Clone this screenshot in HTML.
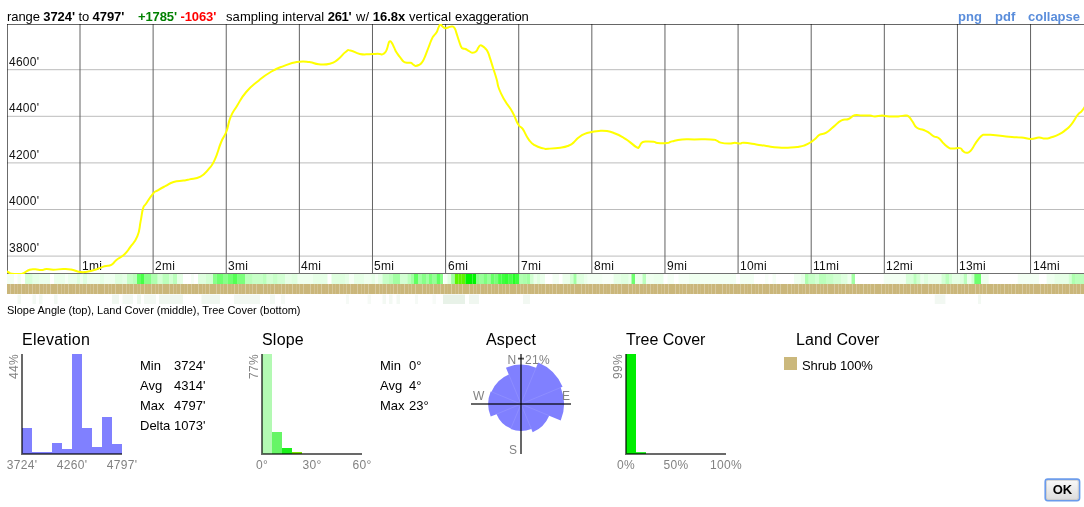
<!DOCTYPE html>
<html><head><meta charset="utf-8"><title>Profile</title>
<style>
html,body{margin:0;padding:0;background:#fff;}
body{width:1084px;height:507px;position:relative;overflow:hidden;font-family:"Liberation Sans",sans-serif;font-size:13px;color:#000;}
.abs{position:absolute;white-space:nowrap;}
.hdr{left:7px;top:9px;line-height:15px;}
.hdr b{font-weight:bold;}
.lnk{color:#5a8ddb;font-weight:bold;top:9px;line-height:15px;}
.ttl{font-size:16px;line-height:18px;top:331px;letter-spacing:0.2px;}
.g{color:#828282;font-size:12px;line-height:14px;letter-spacing:0.3px;}
.ctr{transform:translateX(-50%);}
.st{line-height:20px;top:355.5px;}
.rot{transform-origin:0 0;transform:rotate(-90deg);}
svg{position:absolute;left:0;top:0;}
#wrap{position:absolute;left:0;top:0;width:1084px;height:507px;will-change:transform;}
</style></head><body><div id="wrap">
<div class="abs hdr"><span style="letter-spacing:-0.09px">range <b>3724'</b> to <b>4797'</b></span><span style="display:inline-block;width:13.8px"></span><span style="letter-spacing:-0.1px"><b style="color:#008000">+1785'</b> <b style="color:#ff0000">-1063'</b></span><span style="display:inline-block;width:9.8px"></span><span style="letter-spacing:0.06px">sampling</span> interval <b style="letter-spacing:-0.3px;margin-right:1.2px">261'</b> w/ <b>16.8x</b> <span style="letter-spacing:0.15px">vertical </span><span style="letter-spacing:-0.125px">exaggeration</span></div>
<div class="abs lnk" style="left:958px">png</div><div class="abs lnk" style="left:995px">pdf</div><div class="abs lnk" style="left:1028px">collapse</div>
<svg width="1084" height="507" viewBox="0 0 1084 507">
<line x1="7" x2="1084" y1="69.7" y2="69.7" stroke="#bcbcbc" stroke-width="1"/>
<line x1="7" x2="1084" y1="116.3" y2="116.3" stroke="#bcbcbc" stroke-width="1"/>
<line x1="7" x2="1084" y1="162.9" y2="162.9" stroke="#bcbcbc" stroke-width="1"/>
<line x1="7" x2="1084" y1="209.5" y2="209.5" stroke="#bcbcbc" stroke-width="1"/>
<line x1="7" x2="1084" y1="256.1" y2="256.1" stroke="#bcbcbc" stroke-width="1"/>
<line x1="80.00" x2="80.00" y1="24" y2="274" stroke="#626262" stroke-width="1"/>
<line x1="153.12" x2="153.12" y1="24" y2="274" stroke="#626262" stroke-width="1"/>
<line x1="226.24" x2="226.24" y1="24" y2="274" stroke="#626262" stroke-width="1"/>
<line x1="299.36" x2="299.36" y1="24" y2="274" stroke="#626262" stroke-width="1"/>
<line x1="372.48" x2="372.48" y1="24" y2="274" stroke="#626262" stroke-width="1"/>
<line x1="445.60" x2="445.60" y1="24" y2="274" stroke="#626262" stroke-width="1"/>
<line x1="518.72" x2="518.72" y1="24" y2="274" stroke="#626262" stroke-width="1"/>
<line x1="591.84" x2="591.84" y1="24" y2="274" stroke="#626262" stroke-width="1"/>
<line x1="664.96" x2="664.96" y1="24" y2="274" stroke="#626262" stroke-width="1"/>
<line x1="738.08" x2="738.08" y1="24" y2="274" stroke="#626262" stroke-width="1"/>
<line x1="811.20" x2="811.20" y1="24" y2="274" stroke="#626262" stroke-width="1"/>
<line x1="884.32" x2="884.32" y1="24" y2="274" stroke="#626262" stroke-width="1"/>
<line x1="957.44" x2="957.44" y1="24" y2="274" stroke="#626262" stroke-width="1"/>
<line x1="1030.56" x2="1030.56" y1="24" y2="274" stroke="#626262" stroke-width="1"/>
<rect x="7" y="24" width="1077" height="1" fill="#000" fill-opacity="0.6"/>
<rect x="7" y="24" width="1" height="250" fill="#000" fill-opacity="0.58"/>
<rect x="7" y="273" width="1077" height="1" fill="#707070"/>
<g font-family="Liberation Sans, sans-serif" font-size="12" fill="#111" letter-spacing="0.25">
<text x="9" y="65.8">4600'</text>
<text x="9" y="112.3">4400'</text>
<text x="9" y="158.9">4200'</text>
<text x="9" y="205.4">4000'</text>
<text x="9" y="252">3800'</text>
<text x="82" y="269.5">1mi</text>
<text x="155" y="269.5">2mi</text>
<text x="228" y="269.5">3mi</text>
<text x="301" y="269.5">4mi</text>
<text x="374" y="269.5">5mi</text>
<text x="448" y="269.5">6mi</text>
<text x="521" y="269.5">7mi</text>
<text x="594" y="269.5">8mi</text>
<text x="667" y="269.5">9mi</text>
<text x="740" y="269.5">10mi</text>
<text x="813" y="269.5">11mi</text>
<text x="886" y="269.5">12mi</text>
<text x="959" y="269.5">13mi</text>
<text x="1033" y="269.5">14mi</text>
</g>
<clipPath id="cc"><rect x="7" y="24" width="1077" height="250"/></clipPath>
<path clip-path="url(#cc)" d="M6 271.3C6.7 271.5 7 271.6 8.5 272.2C10 272.8 8.8 273.2 11.8 273.7C14.8 274.2 16.5 274.2 19.7 274C22.9 273.8 21.1 274.2 23.7 273.1C26.3 272 26.5 270.7 29.6 269.7C32.7 268.7 32.4 269.2 35.5 269.3C38.6 269.4 38.5 270.2 41.4 270.1C44.3 270 43.2 269.1 46.4 269C49.6 268.9 48.8 269.7 53.3 269.7C57.8 269.7 58.4 269.1 63.1 269C67.8 268.9 66.5 268.7 71 269.5C75.5 270.3 75.7 271.3 79.9 271.9C84.1 272.5 82.3 272.4 86.8 271.7C91.3 271 91.9 270.7 96.6 269.2C101.3 267.7 100.6 267.4 104.5 266.2C108.4 265 108.2 266.5 111.4 264.8C114.6 263.1 113 262.7 116.4 259.9C119.8 257.1 120.6 257.8 124.3 254.4C128 251 126.7 252 130.2 247.1C133.7 242.2 134.6 243.1 137.4 236.2C140.2 229.3 139.1 228.8 140.6 221.4C142.1 214 141.6 213.3 143 208.6C144.4 203.9 143.4 207.6 146 203.7C148.6 199.8 149.8 197.4 152.9 193.8C156 190.2 154.4 192.4 157.8 190.3C161.2 188.2 161.5 188.1 165.7 185.9C169.9 183.7 168.9 183.4 173.6 182C178.3 180.6 179.2 181.3 183.4 180.6C187.6 179.9 184.9 180.5 189.5 179.4C194.1 178.3 195.5 179.3 200.5 176.6C205.5 173.9 204.6 173.8 208.4 169.3C212.2 164.8 211.3 167 214.7 159.9C218.1 152.8 217.9 150.1 221 142.5C224.1 134.9 223.9 138.2 226.4 131.5C228.9 124.8 227.7 124 230.5 117.3C233.3 110.6 232.6 112.9 236.8 106.2C241 99.5 240.3 98.9 246.2 92C252.1 85.1 252.2 85.9 258.9 80.4C265.6 74.9 264.8 75.4 271.5 71.5C278.2 67.6 277.4 68.4 284.1 65.9C290.8 63.4 290 63.1 296.7 62.1C303.4 61.1 303.4 61.5 309.3 62.1C315.2 62.7 313.3 63.9 318.8 64.3C324.3 64.7 324.8 65 329.8 63.7C334.8 62.4 333.5 62.7 337.7 59.6C341.9 56.5 342.2 54.5 345.6 52C349 49.5 346.5 49.9 350.3 50.4C354.1 50.9 354.7 52.9 359.8 53.9C364.9 54.9 365.2 54.2 369.3 54.2C373.4 54.2 372.2 54 375 53.9C377.8 53.8 377.8 53.8 379.8 53.9C381.8 54 381 54.8 382.4 54.4C383.8 54 384 53.9 385.2 52.4C386.4 50.9 386.1 51 387 48.8C387.9 46.6 387.7 46 388.4 44C389.1 42 388.8 41.6 389.8 41.3C390.7 41 390.6 41.1 391.8 42.8C393 44.5 392.9 45 394.2 47.6C395.5 50.2 395 50 396.6 52.6C398.2 55.2 398.3 55 400.2 57.4C402.1 59.8 402 60.3 403.8 61.7C405.6 63.1 405 62.4 406.8 62.7C408.6 63 408.9 62.3 410.7 62.8C412.5 63.3 412.1 63.9 413.4 64.7C414.7 65.5 414.1 65.8 415.5 65.9C416.9 66 417.1 65.9 418.8 65C420.5 64.1 420.4 64.4 421.8 62.6C423.2 60.8 422.9 61.1 424.2 58.4C425.5 55.7 425.2 56.1 426.6 52.4C428 48.7 428.2 48.3 429.6 44.6C431 40.9 430.7 41.2 432 38.6C433.3 36 433.1 36.8 434.4 35C435.7 33.2 435.7 34 436.8 32C437.9 30 437.6 29.4 438.6 27.4C439.6 25.4 439.4 24.7 440.4 24.4C441.4 24.1 440.9 25.2 442.2 26.2C443.5 27.2 443.6 27.9 445.2 28.2C446.8 28.5 446.4 27.8 448.2 27.4C450 27 450.1 26.5 451.8 26.6C453.5 26.7 453.2 26.2 454.4 27.8C455.6 29.4 455.1 29.1 456.3 32.6C457.5 36.1 457.6 37.1 459 41C460.4 44.9 460.3 45.3 461.4 47.3C462.5 49.3 462.1 48 463.2 48.5C464.3 49 464 48.3 465.6 49C467.2 49.7 467.2 50.2 469.1 51.2C471 52.2 470.8 52.7 472.7 52.7C474.6 52.7 474.8 52.6 476.3 51.2C477.8 49.8 477.3 49.1 478.4 47.6C479.5 46.1 479.1 45.7 480.3 45.4C481.5 45.1 481.6 45.6 482.9 46.4C484.2 47.2 484 47.1 485.3 48.5C486.6 49.9 486.4 49.2 487.7 51.8C489 54.4 488.7 54.1 490.1 58.4C491.5 62.7 491.3 62.4 493.1 68C494.9 73.6 495.1 73.8 496.7 79.4C498.3 85 496.9 83.3 499.1 89C501.3 94.7 501.5 94.7 505 100.8C508.5 106.9 508.9 105.7 512.4 112C515.9 118.3 515.6 120 518.3 124.5C521 129 520 125 522.7 128.9C525.4 132.8 525.4 135 528.6 139.3C531.8 143.6 530.7 142.8 534.6 145.2C538.5 147.6 539.8 147.5 543.4 148.4C547 149.3 543.6 148.9 548.1 148.7C552.6 148.5 554.9 148.5 560.3 147.7C565.7 146.9 564.9 147.1 568.4 145.7C571.9 144.3 570.8 144.8 573.5 142.6C576.2 140.4 575.6 139.8 578.6 137.5C581.6 135.2 581.2 135.3 584.7 133.9C588.2 132.5 588 132.9 591.8 132.1C595.6 131.3 594.8 131.2 598.9 130.9C603 130.6 602.7 130.4 607 131.1C611.3 131.8 610.8 131.8 615.1 133.5C619.4 135.2 619.4 135.3 623.2 137.5C627 139.7 625.8 139 629.3 141.6C632.8 144.2 633.8 145.6 636.4 147.1C639 148.6 637.6 148.2 639 147.1C640.4 146 639.8 144.5 641.5 143C643.2 141.5 642.2 141.9 645.5 141.6C648.8 141.3 650.4 141.4 653.7 141.8C657 142.2 654.2 142.7 657.7 143C661.2 143.3 663.1 143.4 666.9 143C670.7 142.6 667.8 142.4 671.9 141.4C676 140.4 676.1 139.9 682.1 139.4C688.1 138.9 686.7 139.4 694.3 139.4C701.9 139.4 704.6 139.1 710.5 139.4C716.4 139.7 713.9 139.7 716.6 140.6C719.3 141.5 717.3 141.8 720.6 142.6C723.9 143.4 725 143.5 728.8 143.6C732.6 143.7 731.8 142.8 734.8 142.8C737.8 142.8 737.4 143.6 739.9 143.6C742.4 143.6 739.7 142.6 744 142.8C748.3 143 750.2 143.5 756.2 144.4C762.2 145.3 760.4 145.1 766.4 146C772.4 146.9 772.1 147.2 778.6 147.6C785.1 148 785.3 147.8 790.7 147.6C796.1 147.4 795.1 147.4 798.9 146.8C802.7 146.2 801.6 146.5 804.9 145.2C808.2 143.9 808.4 143.7 811.4 141.8C814.4 139.9 813.9 139.8 816.1 137.9C818.3 136 817.1 136.1 819.8 134.7C822.5 133.3 822.7 134.7 826.3 132.6C829.9 130.5 829.3 130.2 833.4 126.9C837.5 123.6 837.4 122.5 841.5 120.4C845.6 118.3 845.1 120.4 848.6 119C852.1 117.6 851.2 116.1 854.7 115.2C858.2 114.3 857.7 115.5 861.8 115.6C865.9 115.7 866.4 115.4 869.9 115.6C873.4 115.8 871.7 116.4 875 116.4C878.3 116.4 878.3 115.6 882.1 115.6C885.9 115.6 884.9 116.2 889.2 116.4C893.5 116.6 894 116.6 898.3 116.4C902.6 116.2 902.6 115.5 905.4 115.6C908.2 115.7 907 115.2 908.9 116.8C910.8 118.4 910.4 118.6 912.5 121.5C914.6 124.4 913.6 125.2 916.6 127.5C919.6 129.8 920.4 128.6 923.7 130C927 131.4 926.1 130.9 928.8 132.6C931.5 134.3 931.1 134.8 933.8 136.3C936.5 137.8 936.2 136.3 938.9 138.3C941.6 140.3 941.3 141.3 944 143.8C946.7 146.3 946.6 146.5 949 147.8C951.4 149.1 950.2 148.4 953.1 148.5C956 148.6 957.3 147.4 960 148.1C962.7 148.8 961.2 149.9 963.1 151.2C965 152.5 965 153 967.1 152.8C969.2 152.6 968.7 153 971 150.4C973.3 147.8 973.1 146.7 975.8 142.9C978.5 139.1 978.8 138.3 981.3 136.1C983.8 133.9 982.1 135.1 985.2 134.8C988.3 134.5 988.5 134.7 993.1 135C997.7 135.3 997.6 135.6 1002.6 136.1C1007.6 136.6 1007 136.6 1012 137C1017 137.4 1016.4 137.1 1021.5 137.6C1026.6 138.1 1026.4 138.9 1031 138.9C1035.6 138.9 1035.1 137.7 1038.9 137.6C1042.7 137.5 1041.8 138.7 1045.2 138.6C1048.6 138.5 1047.7 138.5 1051.5 137.3C1055.3 136.1 1055.6 136.2 1059.4 134.2C1063.2 132.2 1062.6 132.4 1065.7 129.9C1068.8 127.4 1068.1 128.6 1071.2 124.7C1074.3 120.8 1074.8 118.8 1077.5 115.2C1080.2 111.6 1079.5 113.6 1081.5 111.3C1083.5 109 1084.1 107.8 1085 106.5" fill="none" stroke="#ffff00" stroke-width="2" stroke-linejoin="round" stroke-linecap="round"/>
<rect x="7" y="274" width="7" height="10" fill="#00ff00" fill-opacity="0.046"/>
<rect x="17.5" y="274" width="3.5" height="10" fill="#00ff00" fill-opacity="0.046"/>
<rect x="25" y="274" width="7.5" height="10" fill="#00ff00" fill-opacity="0.151"/>
<rect x="32.5" y="274" width="6.5" height="10" fill="#00ff00" fill-opacity="0.098"/>
<rect x="39" y="274" width="11" height="10" fill="#00ff00" fill-opacity="0.079"/>
<rect x="54" y="274" width="11" height="10" fill="#00ff00" fill-opacity="0.079"/>
<rect x="65" y="274" width="3" height="10" fill="#00ff00" fill-opacity="0.038"/>
<rect x="68" y="274" width="9" height="10" fill="#00ff00" fill-opacity="0.079"/>
<rect x="77" y="274" width="3" height="10" fill="#00ff00" fill-opacity="0.124"/>
<rect x="80" y="274" width="3" height="10" fill="#00ff00" fill-opacity="0.063"/>
<rect x="83" y="274" width="4" height="10" fill="#00ff00" fill-opacity="0.124"/>
<rect x="87" y="274" width="13" height="10" fill="#00ff00" fill-opacity="0.063"/>
<rect x="100" y="274" width="4" height="10" fill="#00ff00" fill-opacity="0.098"/>
<rect x="104" y="274" width="11" height="10" fill="#00ff00" fill-opacity="0.063"/>
<rect x="115" y="274" width="7.5" height="10" fill="#00ff00" fill-opacity="0.124"/>
<rect x="122.5" y="274" width="4.5" height="10" fill="#00ff00" fill-opacity="0.098"/>
<rect x="127" y="274" width="6" height="10" fill="#00ff00" fill-opacity="0.218"/>
<rect x="133" y="274" width="4" height="10" fill="#00ff00" fill-opacity="0.266"/>
<rect x="137" y="274" width="4" height="10" fill="#00ff00" fill-opacity="0.623"/>
<rect x="141" y="274" width="3" height="10" fill="#00ff00" fill-opacity="0.729"/>
<rect x="144" y="274" width="7" height="10" fill="#00ff00" fill-opacity="0.466"/>
<rect x="151" y="274" width="6.5" height="10" fill="#00ff00" fill-opacity="0.315"/>
<rect x="157.5" y="274" width="5" height="10" fill="#00ff00" fill-opacity="0.171"/>
<rect x="162.5" y="274" width="6.5" height="10" fill="#00ff00" fill-opacity="0.266"/>
<rect x="169" y="274" width="4" height="10" fill="#00ff00" fill-opacity="0.171"/>
<rect x="173" y="274" width="4" height="10" fill="#00ff00" fill-opacity="0.266"/>
<rect x="177" y="274" width="6" height="10" fill="#00ff00" fill-opacity="0.098"/>
<rect x="191" y="274" width="3" height="10" fill="#00ff00" fill-opacity="0.038"/>
<rect x="198" y="274" width="8" height="10" fill="#00ff00" fill-opacity="0.124"/>
<rect x="206" y="274" width="7" height="10" fill="#00ff00" fill-opacity="0.171"/>
<rect x="213" y="274" width="3.5" height="10" fill="#00ff00" fill-opacity="0.466"/>
<rect x="216.5" y="274" width="6.5" height="10" fill="#00ff00" fill-opacity="0.57"/>
<rect x="223" y="274" width="4.5" height="10" fill="#00ff00" fill-opacity="0.466"/>
<rect x="227.5" y="274" width="5.5" height="10" fill="#00ff00" fill-opacity="0.57"/>
<rect x="233" y="274" width="4.5" height="10" fill="#00ff00" fill-opacity="0.675"/>
<rect x="237.5" y="274" width="7.5" height="10" fill="#00ff00" fill-opacity="0.518"/>
<rect x="245" y="274" width="7.5" height="10" fill="#00ff00" fill-opacity="0.266"/>
<rect x="252.5" y="274" width="10.5" height="10" fill="#00ff00" fill-opacity="0.218"/>
<rect x="263" y="274" width="3.5" height="10" fill="#00ff00" fill-opacity="0.266"/>
<rect x="266.5" y="274" width="6.5" height="10" fill="#00ff00" fill-opacity="0.171"/>
<rect x="273" y="274" width="4.5" height="10" fill="#00ff00" fill-opacity="0.218"/>
<rect x="277.5" y="274" width="7.5" height="10" fill="#00ff00" fill-opacity="0.171"/>
<rect x="285" y="274" width="6.5" height="10" fill="#00ff00" fill-opacity="0.098"/>
<rect x="291.5" y="274" width="6" height="10" fill="#00ff00" fill-opacity="0.124"/>
<rect x="297.5" y="274" width="15.5" height="10" fill="#00ff00" fill-opacity="0.063"/>
<rect x="313" y="274" width="14.5" height="10" fill="#00ff00" fill-opacity="0.098"/>
<rect x="331.5" y="274" width="13.5" height="10" fill="#00ff00" fill-opacity="0.124"/>
<rect x="345" y="274" width="4" height="10" fill="#00ff00" fill-opacity="0.098"/>
<rect x="349" y="274" width="5" height="10" fill="#00ff00" fill-opacity="0.038"/>
<rect x="354" y="274" width="10" height="10" fill="#00ff00" fill-opacity="0.098"/>
<rect x="364" y="274" width="7.5" height="10" fill="#00ff00" fill-opacity="0.063"/>
<rect x="371.5" y="274" width="3.5" height="10" fill="#00ff00" fill-opacity="0.098"/>
<rect x="375" y="274" width="3" height="10" fill="#00ff00" fill-opacity="0.046"/>
<rect x="378" y="274" width="4.5" height="10" fill="#00ff00" fill-opacity="0.098"/>
<rect x="382.5" y="274" width="6.5" height="10" fill="#00ff00" fill-opacity="0.218"/>
<rect x="389" y="274" width="4" height="10" fill="#00ff00" fill-opacity="0.266"/>
<rect x="393" y="274" width="7" height="10" fill="#00ff00" fill-opacity="0.365"/>
<rect x="400" y="274" width="7.5" height="10" fill="#00ff00" fill-opacity="0.171"/>
<rect x="407.5" y="274" width="3.5" height="10" fill="#00ff00" fill-opacity="0.266"/>
<rect x="411" y="274" width="3" height="10" fill="#00ff00" fill-opacity="0.365"/>
<rect x="414" y="274" width="4" height="10" fill="#00ff00" fill-opacity="0.623"/>
<rect x="418" y="274" width="3.5" height="10" fill="#00ff00" fill-opacity="0.365"/>
<rect x="421.5" y="274" width="4.5" height="10" fill="#00ff00" fill-opacity="0.466"/>
<rect x="426" y="274" width="3" height="10" fill="#00ff00" fill-opacity="0.365"/>
<rect x="429" y="274" width="3.5" height="10" fill="#00ff00" fill-opacity="0.518"/>
<rect x="432.5" y="274" width="4" height="10" fill="#00ff00" fill-opacity="0.416"/>
<rect x="436.5" y="274" width="3.5" height="10" fill="#00ff00" fill-opacity="0.623"/>
<rect x="440" y="274" width="3" height="10" fill="#00ff00" fill-opacity="0.466"/>
<rect x="443.9" y="274" width="3.5" height="10" fill="#00ff00" fill-opacity="0.04"/>
<rect x="447.4" y="274" width="3.7" height="10" fill="#00ff00" fill-opacity="0.12"/>
<rect x="451.1" y="274" width="3.7" height="10" fill="#00ff00" fill-opacity="0.37"/>
<rect x="454.8" y="274" width="3.5" height="10" fill="#5cf400" fill-opacity="1"/>
<rect x="458.3" y="274" width="3.5" height="10" fill="#5cf400" fill-opacity="1"/>
<rect x="461.8" y="274" width="3.6" height="10" fill="#5cf400" fill-opacity="1"/>
<rect x="465.4" y="274" width="3.6" height="10" fill="#00f400" fill-opacity="1"/>
<rect x="469" y="274" width="3.5" height="10" fill="#00f400" fill-opacity="1"/>
<rect x="472.5" y="274" width="3.5" height="10" fill="#00f400" fill-opacity="1"/>
<rect x="476" y="274" width="3.7" height="10" fill="#00ff00" fill-opacity="0.45"/>
<rect x="479.7" y="274" width="3.7" height="10" fill="#00ff00" fill-opacity="0.4"/>
<rect x="483.4" y="274" width="3.6" height="10" fill="#00ff00" fill-opacity="0.5"/>
<rect x="487" y="274" width="3.6" height="10" fill="#00ff00" fill-opacity="0.4"/>
<rect x="490.6" y="274" width="3.8" height="10" fill="#00ff00" fill-opacity="0.6"/>
<rect x="494.4" y="274" width="3.7" height="10" fill="#00ff00" fill-opacity="0.53"/>
<rect x="498.1" y="274" width="3.5" height="10" fill="#00ff00" fill-opacity="0.72"/>
<rect x="501.6" y="274" width="3.4" height="10" fill="#00ff00" fill-opacity="0.76"/>
<rect x="505" y="274" width="3.7" height="10" fill="#00ff00" fill-opacity="0.8"/>
<rect x="508.7" y="274" width="3.7" height="10" fill="#00ff00" fill-opacity="0.72"/>
<rect x="512.4" y="274" width="3.4" height="10" fill="#00ff00" fill-opacity="0.85"/>
<rect x="515.8" y="274" width="3.4" height="10" fill="#00ff00" fill-opacity="0.76"/>
<rect x="519.2" y="274" width="3.8" height="10" fill="#00ff00" fill-opacity="0.3"/>
<rect x="523" y="274" width="3.7" height="10" fill="#00ff00" fill-opacity="0.33"/>
<rect x="526.7" y="274" width="3.3" height="10" fill="#00ff00" fill-opacity="0.37"/>
<rect x="530" y="274" width="3.6" height="10" fill="#00ff00" fill-opacity="0.18"/>
<rect x="533.6" y="274" width="3.4" height="10" fill="#00ff00" fill-opacity="0.08"/>
<rect x="537" y="274" width="3" height="10" fill="#00ff00" fill-opacity="0.12"/>
<rect x="540" y="274" width="5" height="10" fill="#00ff00" fill-opacity="0.079"/>
<rect x="552.5" y="274" width="6.5" height="10" fill="#00ff00" fill-opacity="0.046"/>
<rect x="562.5" y="274" width="7.5" height="10" fill="#00ff00" fill-opacity="0.079"/>
<rect x="570" y="274" width="3.5" height="10" fill="#00ff00" fill-opacity="0.171"/>
<rect x="573.5" y="274" width="3" height="10" fill="#00ff00" fill-opacity="0.365"/>
<rect x="576.5" y="274" width="7.5" height="10" fill="#00ff00" fill-opacity="0.124"/>
<rect x="584" y="274" width="3.5" height="10" fill="#00ff00" fill-opacity="0.079"/>
<rect x="587.5" y="274" width="15" height="10" fill="#00ff00" fill-opacity="0.046"/>
<rect x="602.5" y="274" width="11" height="10" fill="#00ff00" fill-opacity="0.029"/>
<rect x="613.5" y="274" width="7.5" height="10" fill="#00ff00" fill-opacity="0.098"/>
<rect x="621" y="274" width="7.5" height="10" fill="#00ff00" fill-opacity="0.124"/>
<rect x="628.5" y="274" width="3" height="10" fill="#00ff00" fill-opacity="0.079"/>
<rect x="631.5" y="274" width="3.5" height="10" fill="#00ff00" fill-opacity="0.57"/>
<rect x="635" y="274" width="7.5" height="10" fill="#00ff00" fill-opacity="0.079"/>
<rect x="642.5" y="274" width="3.5" height="10" fill="#00ff00" fill-opacity="0.266"/>
<rect x="646" y="274" width="7.5" height="10" fill="#00ff00" fill-opacity="0.063"/>
<rect x="653.5" y="274" width="10" height="10" fill="#00ff00" fill-opacity="0.079"/>
<rect x="667.5" y="274" width="6.5" height="10" fill="#00ff00" fill-opacity="0.038"/>
<rect x="678.5" y="274" width="10.5" height="10" fill="#00ff00" fill-opacity="0.038"/>
<rect x="689" y="274" width="11" height="10" fill="#00ff00" fill-opacity="0.063"/>
<rect x="700" y="274" width="36" height="10" fill="#00ff00" fill-opacity="0.046"/>
<rect x="740" y="274" width="14" height="10" fill="#00ff00" fill-opacity="0.046"/>
<rect x="765" y="274" width="3.5" height="10" fill="#00ff00" fill-opacity="0.029"/>
<rect x="772.5" y="274" width="3.5" height="10" fill="#00ff00" fill-opacity="0.038"/>
<rect x="794" y="274" width="7" height="10" fill="#00ff00" fill-opacity="0.063"/>
<rect x="801" y="274" width="4" height="10" fill="#00ff00" fill-opacity="0.098"/>
<rect x="805" y="274" width="3.5" height="10" fill="#00ff00" fill-opacity="0.315"/>
<rect x="808.5" y="274" width="6.5" height="10" fill="#00ff00" fill-opacity="0.218"/>
<rect x="815" y="274" width="4" height="10" fill="#00ff00" fill-opacity="0.171"/>
<rect x="819" y="274" width="7" height="10" fill="#00ff00" fill-opacity="0.266"/>
<rect x="826" y="274" width="7.5" height="10" fill="#00ff00" fill-opacity="0.218"/>
<rect x="833.5" y="274" width="7.5" height="10" fill="#00ff00" fill-opacity="0.171"/>
<rect x="841" y="274" width="6.5" height="10" fill="#00ff00" fill-opacity="0.124"/>
<rect x="847.5" y="274" width="4" height="10" fill="#00ff00" fill-opacity="0.063"/>
<rect x="851.5" y="274" width="3.5" height="10" fill="#00ff00" fill-opacity="0.365"/>
<rect x="883.7" y="274" width="22.1" height="10" fill="#00ff00" fill-opacity="0.046"/>
<rect x="905.8" y="274" width="7.7" height="10" fill="#00ff00" fill-opacity="0.151"/>
<rect x="913.5" y="274" width="3" height="10" fill="#00ff00" fill-opacity="0.266"/>
<rect x="916.5" y="274" width="3.8" height="10" fill="#00ff00" fill-opacity="0.171"/>
<rect x="920.3" y="274" width="3.7" height="10" fill="#00ff00" fill-opacity="0.079"/>
<rect x="924" y="274" width="4" height="10" fill="#00ff00" fill-opacity="0.124"/>
<rect x="928" y="274" width="13.5" height="10" fill="#00ff00" fill-opacity="0.079"/>
<rect x="941.5" y="274" width="3.9" height="10" fill="#00ff00" fill-opacity="0.171"/>
<rect x="945.4" y="274" width="3.6" height="10" fill="#00ff00" fill-opacity="0.266"/>
<rect x="949" y="274" width="3" height="10" fill="#00ff00" fill-opacity="0.171"/>
<rect x="952" y="274" width="7.8" height="10" fill="#00ff00" fill-opacity="0.098"/>
<rect x="959.8" y="274" width="3.9" height="10" fill="#00ff00" fill-opacity="0.124"/>
<rect x="963.7" y="274" width="3.3" height="10" fill="#00ff00" fill-opacity="0.266"/>
<rect x="967" y="274" width="4.4" height="10" fill="#00ff00" fill-opacity="0.079"/>
<rect x="971.4" y="274" width="2.9" height="10" fill="#00ff00" fill-opacity="0.171"/>
<rect x="974.3" y="274" width="6.7" height="10" fill="#00ff00" fill-opacity="0.57"/>
<rect x="981" y="274" width="7.7" height="10" fill="#00ff00" fill-opacity="0.063"/>
<rect x="1017.7" y="274" width="21.3" height="10" fill="#00ff00" fill-opacity="0.046"/>
<rect x="1046.6" y="274" width="7.7" height="10" fill="#00ff00" fill-opacity="0.063"/>
<rect x="1054.3" y="274" width="14.4" height="10" fill="#00ff00" fill-opacity="0.098"/>
<rect x="1068.7" y="274" width="3" height="10" fill="#00ff00" fill-opacity="0.171"/>
<rect x="1071.7" y="274" width="3.8" height="10" fill="#00ff00" fill-opacity="0.315"/>
<rect x="1075.5" y="274" width="8.5" height="10" fill="#00ff00" fill-opacity="0.266"/>
<rect x="7" y="284" width="1077" height="10" fill="#cab67a"/>
<rect x="10" y="284" width="1" height="10" fill="#fff" fill-opacity="0.27"/>
<rect x="14" y="284" width="1" height="10" fill="#fff" fill-opacity="0.20"/>
<rect x="17" y="284" width="1" height="10" fill="#fff" fill-opacity="0.15"/>
<rect x="21" y="284" width="1" height="10" fill="#fff" fill-opacity="0.29"/>
<rect x="25" y="284" width="1" height="10" fill="#fff" fill-opacity="0.08"/>
<rect x="28" y="284" width="1" height="10" fill="#fff" fill-opacity="0.25"/>
<rect x="32" y="284" width="1" height="10" fill="#fff" fill-opacity="0.24"/>
<rect x="35" y="284" width="1" height="10" fill="#fff" fill-opacity="0.09"/>
<rect x="39" y="284" width="1" height="10" fill="#fff" fill-opacity="0.29"/>
<rect x="43" y="284" width="1" height="10" fill="#fff" fill-opacity="0.14"/>
<rect x="46" y="284" width="1" height="10" fill="#fff" fill-opacity="0.21"/>
<rect x="50" y="284" width="1" height="10" fill="#fff" fill-opacity="0.27"/>
<rect x="57" y="284" width="1" height="10" fill="#fff" fill-opacity="0.28"/>
<rect x="61" y="284" width="1" height="10" fill="#fff" fill-opacity="0.19"/>
<rect x="64" y="284" width="1" height="10" fill="#fff" fill-opacity="0.17"/>
<rect x="68" y="284" width="1" height="10" fill="#fff" fill-opacity="0.28"/>
<rect x="72" y="284" width="1" height="10" fill="#fff" fill-opacity="0.06"/>
<rect x="75" y="284" width="1" height="10" fill="#fff" fill-opacity="0.26"/>
<rect x="79" y="284" width="1" height="10" fill="#fff" fill-opacity="0.23"/>
<rect x="82" y="284" width="1" height="10" fill="#fff" fill-opacity="0.11"/>
<rect x="86" y="284" width="1" height="10" fill="#fff" fill-opacity="0.29"/>
<rect x="90" y="284" width="1" height="10" fill="#fff" fill-opacity="0.13"/>
<rect x="93" y="284" width="1" height="10" fill="#fff" fill-opacity="0.22"/>
<rect x="97" y="284" width="1" height="10" fill="#fff" fill-opacity="0.26"/>
<rect x="104" y="284" width="1" height="10" fill="#fff" fill-opacity="0.28"/>
<rect x="108" y="284" width="1" height="10" fill="#fff" fill-opacity="0.18"/>
<rect x="111" y="284" width="1" height="10" fill="#fff" fill-opacity="0.18"/>
<rect x="115" y="284" width="1" height="10" fill="#fff" fill-opacity="0.28"/>
<rect x="119" y="284" width="1" height="10" fill="#fff" fill-opacity="0.04"/>
<rect x="122" y="284" width="1" height="10" fill="#fff" fill-opacity="0.26"/>
<rect x="126" y="284" width="1" height="10" fill="#fff" fill-opacity="0.22"/>
<rect x="129" y="284" width="1" height="10" fill="#fff" fill-opacity="0.12"/>
<rect x="133" y="284" width="1" height="10" fill="#fff" fill-opacity="0.29"/>
<rect x="137" y="284" width="1" height="10" fill="#fff" fill-opacity="0.11"/>
<rect x="140" y="284" width="1" height="10" fill="#fff" fill-opacity="0.23"/>
<rect x="144" y="284" width="1" height="10" fill="#fff" fill-opacity="0.26"/>
<rect x="147" y="284" width="1" height="10" fill="#fff" fill-opacity="0.05"/>
<rect x="151" y="284" width="1" height="10" fill="#fff" fill-opacity="0.28"/>
<rect x="155" y="284" width="1" height="10" fill="#fff" fill-opacity="0.17"/>
<rect x="158" y="284" width="1" height="10" fill="#fff" fill-opacity="0.19"/>
<rect x="162" y="284" width="1" height="10" fill="#fff" fill-opacity="0.28"/>
<rect x="169" y="284" width="1" height="10" fill="#fff" fill-opacity="0.27"/>
<rect x="173" y="284" width="1" height="10" fill="#fff" fill-opacity="0.21"/>
<rect x="176" y="284" width="1" height="10" fill="#fff" fill-opacity="0.14"/>
<rect x="180" y="284" width="1" height="10" fill="#fff" fill-opacity="0.29"/>
<rect x="184" y="284" width="1" height="10" fill="#fff" fill-opacity="0.09"/>
<rect x="187" y="284" width="1" height="10" fill="#fff" fill-opacity="0.24"/>
<rect x="191" y="284" width="1" height="10" fill="#fff" fill-opacity="0.25"/>
<rect x="194" y="284" width="1" height="10" fill="#fff" fill-opacity="0.07"/>
<rect x="198" y="284" width="1" height="10" fill="#fff" fill-opacity="0.28"/>
<rect x="202" y="284" width="1" height="10" fill="#fff" fill-opacity="0.16"/>
<rect x="205" y="284" width="1" height="10" fill="#fff" fill-opacity="0.20"/>
<rect x="209" y="284" width="1" height="10" fill="#fff" fill-opacity="0.27"/>
<rect x="216" y="284" width="1" height="10" fill="#fff" fill-opacity="0.27"/>
<rect x="220" y="284" width="1" height="10" fill="#fff" fill-opacity="0.20"/>
<rect x="223" y="284" width="1" height="10" fill="#fff" fill-opacity="0.15"/>
<rect x="227" y="284" width="1" height="10" fill="#fff" fill-opacity="0.29"/>
<rect x="231" y="284" width="1" height="10" fill="#fff" fill-opacity="0.08"/>
<rect x="234" y="284" width="1" height="10" fill="#fff" fill-opacity="0.25"/>
<rect x="238" y="284" width="1" height="10" fill="#fff" fill-opacity="0.24"/>
<rect x="241" y="284" width="1" height="10" fill="#fff" fill-opacity="0.09"/>
<rect x="245" y="284" width="1" height="10" fill="#fff" fill-opacity="0.29"/>
<rect x="249" y="284" width="1" height="10" fill="#fff" fill-opacity="0.14"/>
<rect x="252" y="284" width="1" height="10" fill="#fff" fill-opacity="0.21"/>
<rect x="256" y="284" width="1" height="10" fill="#fff" fill-opacity="0.27"/>
<rect x="263" y="284" width="1" height="10" fill="#fff" fill-opacity="0.28"/>
<rect x="267" y="284" width="1" height="10" fill="#fff" fill-opacity="0.19"/>
<rect x="270" y="284" width="1" height="10" fill="#fff" fill-opacity="0.16"/>
<rect x="274" y="284" width="1" height="10" fill="#fff" fill-opacity="0.28"/>
<rect x="278" y="284" width="1" height="10" fill="#fff" fill-opacity="0.06"/>
<rect x="281" y="284" width="1" height="10" fill="#fff" fill-opacity="0.25"/>
<rect x="285" y="284" width="1" height="10" fill="#fff" fill-opacity="0.23"/>
<rect x="288" y="284" width="1" height="10" fill="#fff" fill-opacity="0.10"/>
<rect x="292" y="284" width="1" height="10" fill="#fff" fill-opacity="0.29"/>
<rect x="296" y="284" width="1" height="10" fill="#fff" fill-opacity="0.13"/>
<rect x="299" y="284" width="1" height="10" fill="#fff" fill-opacity="0.22"/>
<rect x="303" y="284" width="1" height="10" fill="#fff" fill-opacity="0.26"/>
<rect x="310" y="284" width="1" height="10" fill="#fff" fill-opacity="0.28"/>
<rect x="314" y="284" width="1" height="10" fill="#fff" fill-opacity="0.18"/>
<rect x="317" y="284" width="1" height="10" fill="#fff" fill-opacity="0.18"/>
<rect x="321" y="284" width="1" height="10" fill="#fff" fill-opacity="0.28"/>
<rect x="325" y="284" width="1" height="10" fill="#fff" fill-opacity="0.04"/>
<rect x="328" y="284" width="1" height="10" fill="#fff" fill-opacity="0.26"/>
<rect x="332" y="284" width="1" height="10" fill="#fff" fill-opacity="0.23"/>
<rect x="335" y="284" width="1" height="10" fill="#fff" fill-opacity="0.12"/>
<rect x="339" y="284" width="1" height="10" fill="#fff" fill-opacity="0.29"/>
<rect x="343" y="284" width="1" height="10" fill="#fff" fill-opacity="0.11"/>
<rect x="346" y="284" width="1" height="10" fill="#fff" fill-opacity="0.23"/>
<rect x="350" y="284" width="1" height="10" fill="#fff" fill-opacity="0.26"/>
<rect x="353" y="284" width="1" height="10" fill="#fff" fill-opacity="0.05"/>
<rect x="357" y="284" width="1" height="10" fill="#fff" fill-opacity="0.28"/>
<rect x="361" y="284" width="1" height="10" fill="#fff" fill-opacity="0.17"/>
<rect x="364" y="284" width="1" height="10" fill="#fff" fill-opacity="0.19"/>
<rect x="368" y="284" width="1" height="10" fill="#fff" fill-opacity="0.28"/>
<rect x="375" y="284" width="1" height="10" fill="#fff" fill-opacity="0.27"/>
<rect x="379" y="284" width="1" height="10" fill="#fff" fill-opacity="0.22"/>
<rect x="382" y="284" width="1" height="10" fill="#fff" fill-opacity="0.13"/>
<rect x="386" y="284" width="1" height="10" fill="#fff" fill-opacity="0.29"/>
<rect x="390" y="284" width="1" height="10" fill="#fff" fill-opacity="0.10"/>
<rect x="393" y="284" width="1" height="10" fill="#fff" fill-opacity="0.24"/>
<rect x="397" y="284" width="1" height="10" fill="#fff" fill-opacity="0.25"/>
<rect x="400" y="284" width="1" height="10" fill="#fff" fill-opacity="0.07"/>
<rect x="404" y="284" width="1" height="10" fill="#fff" fill-opacity="0.28"/>
<rect x="408" y="284" width="1" height="10" fill="#fff" fill-opacity="0.16"/>
<rect x="411" y="284" width="1" height="10" fill="#fff" fill-opacity="0.20"/>
<rect x="415" y="284" width="1" height="10" fill="#fff" fill-opacity="0.27"/>
<rect x="422" y="284" width="1" height="10" fill="#fff" fill-opacity="0.27"/>
<rect x="426" y="284" width="1" height="10" fill="#fff" fill-opacity="0.21"/>
<rect x="429" y="284" width="1" height="10" fill="#fff" fill-opacity="0.15"/>
<rect x="433" y="284" width="1" height="10" fill="#fff" fill-opacity="0.29"/>
<rect x="437" y="284" width="1" height="10" fill="#fff" fill-opacity="0.08"/>
<rect x="440" y="284" width="1" height="10" fill="#fff" fill-opacity="0.25"/>
<rect x="444" y="284" width="1" height="10" fill="#fff" fill-opacity="0.24"/>
<rect x="447" y="284" width="1" height="10" fill="#fff" fill-opacity="0.09"/>
<rect x="451" y="284" width="1" height="10" fill="#fff" fill-opacity="0.29"/>
<rect x="455" y="284" width="1" height="10" fill="#fff" fill-opacity="0.14"/>
<rect x="458" y="284" width="1" height="10" fill="#fff" fill-opacity="0.21"/>
<rect x="462" y="284" width="1" height="10" fill="#fff" fill-opacity="0.27"/>
<rect x="469" y="284" width="1" height="10" fill="#fff" fill-opacity="0.28"/>
<rect x="473" y="284" width="1" height="10" fill="#fff" fill-opacity="0.20"/>
<rect x="476" y="284" width="1" height="10" fill="#fff" fill-opacity="0.16"/>
<rect x="480" y="284" width="1" height="10" fill="#fff" fill-opacity="0.28"/>
<rect x="484" y="284" width="1" height="10" fill="#fff" fill-opacity="0.07"/>
<rect x="487" y="284" width="1" height="10" fill="#fff" fill-opacity="0.25"/>
<rect x="491" y="284" width="1" height="10" fill="#fff" fill-opacity="0.24"/>
<rect x="494" y="284" width="1" height="10" fill="#fff" fill-opacity="0.10"/>
<rect x="498" y="284" width="1" height="10" fill="#fff" fill-opacity="0.29"/>
<rect x="502" y="284" width="1" height="10" fill="#fff" fill-opacity="0.13"/>
<rect x="505" y="284" width="1" height="10" fill="#fff" fill-opacity="0.22"/>
<rect x="509" y="284" width="1" height="10" fill="#fff" fill-opacity="0.26"/>
<rect x="516" y="284" width="1" height="10" fill="#fff" fill-opacity="0.28"/>
<rect x="520" y="284" width="1" height="10" fill="#fff" fill-opacity="0.18"/>
<rect x="523" y="284" width="1" height="10" fill="#fff" fill-opacity="0.17"/>
<rect x="527" y="284" width="1" height="10" fill="#fff" fill-opacity="0.28"/>
<rect x="531" y="284" width="1" height="10" fill="#fff" fill-opacity="0.05"/>
<rect x="534" y="284" width="1" height="10" fill="#fff" fill-opacity="0.26"/>
<rect x="538" y="284" width="1" height="10" fill="#fff" fill-opacity="0.23"/>
<rect x="541" y="284" width="1" height="10" fill="#fff" fill-opacity="0.12"/>
<rect x="545" y="284" width="1" height="10" fill="#fff" fill-opacity="0.29"/>
<rect x="549" y="284" width="1" height="10" fill="#fff" fill-opacity="0.12"/>
<rect x="552" y="284" width="1" height="10" fill="#fff" fill-opacity="0.23"/>
<rect x="556" y="284" width="1" height="10" fill="#fff" fill-opacity="0.26"/>
<rect x="559" y="284" width="1" height="10" fill="#fff" fill-opacity="0.05"/>
<rect x="563" y="284" width="1" height="10" fill="#fff" fill-opacity="0.28"/>
<rect x="567" y="284" width="1" height="10" fill="#fff" fill-opacity="0.17"/>
<rect x="570" y="284" width="1" height="10" fill="#fff" fill-opacity="0.18"/>
<rect x="574" y="284" width="1" height="10" fill="#fff" fill-opacity="0.28"/>
<rect x="581" y="284" width="1" height="10" fill="#fff" fill-opacity="0.26"/>
<rect x="585" y="284" width="1" height="10" fill="#fff" fill-opacity="0.22"/>
<rect x="588" y="284" width="1" height="10" fill="#fff" fill-opacity="0.13"/>
<rect x="592" y="284" width="1" height="10" fill="#fff" fill-opacity="0.29"/>
<rect x="596" y="284" width="1" height="10" fill="#fff" fill-opacity="0.10"/>
<rect x="599" y="284" width="1" height="10" fill="#fff" fill-opacity="0.24"/>
<rect x="603" y="284" width="1" height="10" fill="#fff" fill-opacity="0.25"/>
<rect x="606" y="284" width="1" height="10" fill="#fff" fill-opacity="0.07"/>
<rect x="610" y="284" width="1" height="10" fill="#fff" fill-opacity="0.28"/>
<rect x="614" y="284" width="1" height="10" fill="#fff" fill-opacity="0.16"/>
<rect x="617" y="284" width="1" height="10" fill="#fff" fill-opacity="0.20"/>
<rect x="621" y="284" width="1" height="10" fill="#fff" fill-opacity="0.28"/>
<rect x="628" y="284" width="1" height="10" fill="#fff" fill-opacity="0.27"/>
<rect x="632" y="284" width="1" height="10" fill="#fff" fill-opacity="0.21"/>
<rect x="635" y="284" width="1" height="10" fill="#fff" fill-opacity="0.14"/>
<rect x="639" y="284" width="1" height="10" fill="#fff" fill-opacity="0.29"/>
<rect x="643" y="284" width="1" height="10" fill="#fff" fill-opacity="0.09"/>
<rect x="646" y="284" width="1" height="10" fill="#fff" fill-opacity="0.24"/>
<rect x="650" y="284" width="1" height="10" fill="#fff" fill-opacity="0.25"/>
<rect x="653" y="284" width="1" height="10" fill="#fff" fill-opacity="0.08"/>
<rect x="657" y="284" width="1" height="10" fill="#fff" fill-opacity="0.29"/>
<rect x="661" y="284" width="1" height="10" fill="#fff" fill-opacity="0.15"/>
<rect x="664" y="284" width="1" height="10" fill="#fff" fill-opacity="0.21"/>
<rect x="668" y="284" width="1" height="10" fill="#fff" fill-opacity="0.27"/>
<rect x="675" y="284" width="1" height="10" fill="#fff" fill-opacity="0.27"/>
<rect x="679" y="284" width="1" height="10" fill="#fff" fill-opacity="0.20"/>
<rect x="682" y="284" width="1" height="10" fill="#fff" fill-opacity="0.16"/>
<rect x="686" y="284" width="1" height="10" fill="#fff" fill-opacity="0.28"/>
<rect x="690" y="284" width="1" height="10" fill="#fff" fill-opacity="0.07"/>
<rect x="693" y="284" width="1" height="10" fill="#fff" fill-opacity="0.25"/>
<rect x="697" y="284" width="1" height="10" fill="#fff" fill-opacity="0.24"/>
<rect x="700" y="284" width="1" height="10" fill="#fff" fill-opacity="0.10"/>
<rect x="704" y="284" width="1" height="10" fill="#fff" fill-opacity="0.29"/>
<rect x="708" y="284" width="1" height="10" fill="#fff" fill-opacity="0.13"/>
<rect x="711" y="284" width="1" height="10" fill="#fff" fill-opacity="0.22"/>
<rect x="715" y="284" width="1" height="10" fill="#fff" fill-opacity="0.27"/>
<rect x="722" y="284" width="1" height="10" fill="#fff" fill-opacity="0.28"/>
<rect x="726" y="284" width="1" height="10" fill="#fff" fill-opacity="0.19"/>
<rect x="729" y="284" width="1" height="10" fill="#fff" fill-opacity="0.17"/>
<rect x="733" y="284" width="1" height="10" fill="#fff" fill-opacity="0.28"/>
<rect x="737" y="284" width="1" height="10" fill="#fff" fill-opacity="0.05"/>
<rect x="740" y="284" width="1" height="10" fill="#fff" fill-opacity="0.26"/>
<rect x="744" y="284" width="1" height="10" fill="#fff" fill-opacity="0.23"/>
<rect x="747" y="284" width="1" height="10" fill="#fff" fill-opacity="0.11"/>
<rect x="751" y="284" width="1" height="10" fill="#fff" fill-opacity="0.29"/>
<rect x="755" y="284" width="1" height="10" fill="#fff" fill-opacity="0.12"/>
<rect x="758" y="284" width="1" height="10" fill="#fff" fill-opacity="0.23"/>
<rect x="762" y="284" width="1" height="10" fill="#fff" fill-opacity="0.26"/>
<rect x="765" y="284" width="1" height="10" fill="#fff" fill-opacity="0.04"/>
<rect x="769" y="284" width="1" height="10" fill="#fff" fill-opacity="0.28"/>
<rect x="773" y="284" width="1" height="10" fill="#fff" fill-opacity="0.18"/>
<rect x="776" y="284" width="1" height="10" fill="#fff" fill-opacity="0.18"/>
<rect x="780" y="284" width="1" height="10" fill="#fff" fill-opacity="0.28"/>
<rect x="787" y="284" width="1" height="10" fill="#fff" fill-opacity="0.26"/>
<rect x="791" y="284" width="1" height="10" fill="#fff" fill-opacity="0.22"/>
<rect x="794" y="284" width="1" height="10" fill="#fff" fill-opacity="0.13"/>
<rect x="798" y="284" width="1" height="10" fill="#fff" fill-opacity="0.29"/>
<rect x="802" y="284" width="1" height="10" fill="#fff" fill-opacity="0.10"/>
<rect x="805" y="284" width="1" height="10" fill="#fff" fill-opacity="0.23"/>
<rect x="809" y="284" width="1" height="10" fill="#fff" fill-opacity="0.25"/>
<rect x="812" y="284" width="1" height="10" fill="#fff" fill-opacity="0.06"/>
<rect x="816" y="284" width="1" height="10" fill="#fff" fill-opacity="0.28"/>
<rect x="820" y="284" width="1" height="10" fill="#fff" fill-opacity="0.16"/>
<rect x="823" y="284" width="1" height="10" fill="#fff" fill-opacity="0.19"/>
<rect x="827" y="284" width="1" height="10" fill="#fff" fill-opacity="0.28"/>
<rect x="834" y="284" width="1" height="10" fill="#fff" fill-opacity="0.27"/>
<rect x="838" y="284" width="1" height="10" fill="#fff" fill-opacity="0.21"/>
<rect x="841" y="284" width="1" height="10" fill="#fff" fill-opacity="0.14"/>
<rect x="845" y="284" width="1" height="10" fill="#fff" fill-opacity="0.29"/>
<rect x="849" y="284" width="1" height="10" fill="#fff" fill-opacity="0.09"/>
<rect x="852" y="284" width="1" height="10" fill="#fff" fill-opacity="0.24"/>
<rect x="856" y="284" width="1" height="10" fill="#fff" fill-opacity="0.25"/>
<rect x="859" y="284" width="1" height="10" fill="#fff" fill-opacity="0.08"/>
<rect x="863" y="284" width="1" height="10" fill="#fff" fill-opacity="0.29"/>
<rect x="867" y="284" width="1" height="10" fill="#fff" fill-opacity="0.15"/>
<rect x="870" y="284" width="1" height="10" fill="#fff" fill-opacity="0.20"/>
<rect x="874" y="284" width="1" height="10" fill="#fff" fill-opacity="0.27"/>
<rect x="881" y="284" width="1" height="10" fill="#fff" fill-opacity="0.27"/>
<rect x="885" y="284" width="1" height="10" fill="#fff" fill-opacity="0.20"/>
<rect x="888" y="284" width="1" height="10" fill="#fff" fill-opacity="0.16"/>
<rect x="892" y="284" width="1" height="10" fill="#fff" fill-opacity="0.28"/>
<rect x="896" y="284" width="1" height="10" fill="#fff" fill-opacity="0.07"/>
<rect x="899" y="284" width="1" height="10" fill="#fff" fill-opacity="0.25"/>
<rect x="903" y="284" width="1" height="10" fill="#fff" fill-opacity="0.24"/>
<rect x="906" y="284" width="1" height="10" fill="#fff" fill-opacity="0.09"/>
<rect x="910" y="284" width="1" height="10" fill="#fff" fill-opacity="0.29"/>
<rect x="914" y="284" width="1" height="10" fill="#fff" fill-opacity="0.14"/>
<rect x="917" y="284" width="1" height="10" fill="#fff" fill-opacity="0.21"/>
<rect x="921" y="284" width="1" height="10" fill="#fff" fill-opacity="0.27"/>
<rect x="928" y="284" width="1" height="10" fill="#fff" fill-opacity="0.28"/>
<rect x="932" y="284" width="1" height="10" fill="#fff" fill-opacity="0.19"/>
<rect x="935" y="284" width="1" height="10" fill="#fff" fill-opacity="0.17"/>
<rect x="939" y="284" width="1" height="10" fill="#fff" fill-opacity="0.28"/>
<rect x="943" y="284" width="1" height="10" fill="#fff" fill-opacity="0.05"/>
<rect x="946" y="284" width="1" height="10" fill="#fff" fill-opacity="0.26"/>
<rect x="950" y="284" width="1" height="10" fill="#fff" fill-opacity="0.23"/>
<rect x="953" y="284" width="1" height="10" fill="#fff" fill-opacity="0.11"/>
<rect x="957" y="284" width="1" height="10" fill="#fff" fill-opacity="0.29"/>
<rect x="961" y="284" width="1" height="10" fill="#fff" fill-opacity="0.12"/>
<rect x="964" y="284" width="1" height="10" fill="#fff" fill-opacity="0.22"/>
<rect x="968" y="284" width="1" height="10" fill="#fff" fill-opacity="0.26"/>
<rect x="971" y="284" width="1" height="10" fill="#fff" fill-opacity="0.04"/>
<rect x="975" y="284" width="1" height="10" fill="#fff" fill-opacity="0.28"/>
<rect x="979" y="284" width="1" height="10" fill="#fff" fill-opacity="0.18"/>
<rect x="982" y="284" width="1" height="10" fill="#fff" fill-opacity="0.18"/>
<rect x="986" y="284" width="1" height="10" fill="#fff" fill-opacity="0.28"/>
<rect x="993" y="284" width="1" height="10" fill="#fff" fill-opacity="0.26"/>
<rect x="997" y="284" width="1" height="10" fill="#fff" fill-opacity="0.22"/>
<rect x="1000" y="284" width="1" height="10" fill="#fff" fill-opacity="0.13"/>
<rect x="1004" y="284" width="1" height="10" fill="#fff" fill-opacity="0.29"/>
<rect x="1008" y="284" width="1" height="10" fill="#fff" fill-opacity="0.11"/>
<rect x="1011" y="284" width="1" height="10" fill="#fff" fill-opacity="0.23"/>
<rect x="1015" y="284" width="1" height="10" fill="#fff" fill-opacity="0.26"/>
<rect x="1018" y="284" width="1" height="10" fill="#fff" fill-opacity="0.06"/>
<rect x="1022" y="284" width="1" height="10" fill="#fff" fill-opacity="0.28"/>
<rect x="1026" y="284" width="1" height="10" fill="#fff" fill-opacity="0.17"/>
<rect x="1029" y="284" width="1" height="10" fill="#fff" fill-opacity="0.19"/>
<rect x="1033" y="284" width="1" height="10" fill="#fff" fill-opacity="0.28"/>
<rect x="1040" y="284" width="1" height="10" fill="#fff" fill-opacity="0.27"/>
<rect x="1044" y="284" width="1" height="10" fill="#fff" fill-opacity="0.21"/>
<rect x="1047" y="284" width="1" height="10" fill="#fff" fill-opacity="0.14"/>
<rect x="1051" y="284" width="1" height="10" fill="#fff" fill-opacity="0.29"/>
<rect x="1055" y="284" width="1" height="10" fill="#fff" fill-opacity="0.09"/>
<rect x="1058" y="284" width="1" height="10" fill="#fff" fill-opacity="0.24"/>
<rect x="1062" y="284" width="1" height="10" fill="#fff" fill-opacity="0.25"/>
<rect x="1065" y="284" width="1" height="10" fill="#fff" fill-opacity="0.08"/>
<rect x="1069" y="284" width="1" height="10" fill="#fff" fill-opacity="0.29"/>
<rect x="1073" y="284" width="1" height="10" fill="#fff" fill-opacity="0.15"/>
<rect x="1076" y="284" width="1" height="10" fill="#fff" fill-opacity="0.20"/>
<rect x="1080" y="284" width="1" height="10" fill="#fff" fill-opacity="0.27"/>
<rect x="17.5" y="294.5" width="3.5" height="9.5" fill="#2a8a2a" fill-opacity="0.054"/>
<rect x="32.5" y="294.5" width="3.5" height="9.5" fill="#2a8a2a" fill-opacity="0.054"/>
<rect x="39" y="294.5" width="3.5" height="9.5" fill="#2a8a2a" fill-opacity="0.054"/>
<rect x="54" y="294.5" width="3.5" height="9.5" fill="#2a8a2a" fill-opacity="0.063"/>
<rect x="112" y="294.5" width="7" height="9.5" fill="#2a8a2a" fill-opacity="0.072"/>
<rect x="122.5" y="294.5" width="10.5" height="9.5" fill="#2a8a2a" fill-opacity="0.054"/>
<rect x="137" y="294.5" width="4" height="9.5" fill="#2a8a2a" fill-opacity="0.072"/>
<rect x="144" y="294.5" width="12" height="9.5" fill="#2a8a2a" fill-opacity="0.054"/>
<rect x="159" y="294.5" width="24" height="9.5" fill="#2a8a2a" fill-opacity="0.072"/>
<rect x="201.5" y="294.5" width="18.5" height="9.5" fill="#2a8a2a" fill-opacity="0.072"/>
<rect x="234" y="294.5" width="26" height="9.5" fill="#2a8a2a" fill-opacity="0.063"/>
<rect x="270" y="294.5" width="5" height="9.5" fill="#2a8a2a" fill-opacity="0.054"/>
<rect x="281" y="294.5" width="4" height="9.5" fill="#2a8a2a" fill-opacity="0.045"/>
<rect x="346" y="294.5" width="3" height="9.5" fill="#2a8a2a" fill-opacity="0.045"/>
<rect x="367.5" y="294.5" width="3.5" height="9.5" fill="#2a8a2a" fill-opacity="0.045"/>
<rect x="382.5" y="294.5" width="3.5" height="9.5" fill="#2a8a2a" fill-opacity="0.054"/>
<rect x="389" y="294.5" width="3.5" height="9.5" fill="#2a8a2a" fill-opacity="0.054"/>
<rect x="396.5" y="294.5" width="3.5" height="9.5" fill="#2a8a2a" fill-opacity="0.054"/>
<rect x="415" y="294.5" width="3" height="9.5" fill="#2a8a2a" fill-opacity="0.045"/>
<rect x="432.5" y="294.5" width="3.5" height="9.5" fill="#2a8a2a" fill-opacity="0.036"/>
<rect x="443" y="294.5" width="22" height="9.5" fill="#2a8a2a" fill-opacity="0.108"/>
<rect x="469" y="294.5" width="10" height="9.5" fill="#2a8a2a" fill-opacity="0.072"/>
<rect x="523" y="294.5" width="7" height="9.5" fill="#2a8a2a" fill-opacity="0.063"/>
<rect x="934.8" y="294.5" width="10.6" height="9.5" fill="#2a8a2a" fill-opacity="0.063"/>
<rect x="978" y="294.5" width="3" height="9.5" fill="#2a8a2a" fill-opacity="0.054"/>
</svg>
<div class="abs" style="left:7px;top:303px;font-size:11px;line-height:14px;letter-spacing:-0.02px;">Slope Angle (top), Land Cover (middle), Tree Cover (bottom)</div>
<div class="abs ttl" style="left:22px;letter-spacing:0.25px">Elevation</div>
<svg width="1084" height="507" viewBox="0 0 1084 507">
<rect x="22" y="428" width="10" height="26" fill="#8080ff"/>
<rect x="32" y="452" width="10" height="2" fill="#8080ff"/>
<rect x="42" y="452" width="10" height="2" fill="#8080ff"/>
<rect x="52" y="443" width="10" height="11" fill="#8080ff"/>
<rect x="62" y="449" width="10" height="5" fill="#8080ff"/>
<rect x="72" y="354" width="10" height="100" fill="#8080ff"/>
<rect x="82" y="428" width="10" height="26" fill="#8080ff"/>
<rect x="92" y="447" width="10" height="7" fill="#8080ff"/>
<rect x="102" y="417" width="10" height="37" fill="#8080ff"/>
<rect x="112" y="444" width="10" height="10" fill="#8080ff"/>
<path d="M22 354V454H122" fill="none" stroke="#000" stroke-opacity="0.59" stroke-width="2"/>
</svg>
<div class="abs g rot" style="left:7px;top:354px;width:0;"><span style="position:absolute;right:0;top:0">44%</span></div>
<div class="abs g ctr" style="left:22px;top:458px">3724'</div>
<div class="abs g ctr" style="left:72px;top:458px">4260'</div>
<div class="abs g ctr" style="left:122px;top:458px">4797'</div>
<div class="abs ttl" style="left:262px;letter-spacing:0.2px">Slope</div>
<svg width="1084" height="507" viewBox="0 0 1084 507">
<rect x="262" y="354" width="10" height="100" fill="#b3f9b3"/>
<rect x="272" y="432" width="10" height="22" fill="#66f566"/>
<rect x="282" y="448" width="10" height="6" fill="#1af01a"/>
<rect x="292" y="452" width="10" height="2" fill="#7be800"/>
<path d="M262 354V454H362" fill="none" stroke="#000" stroke-opacity="0.59" stroke-width="2"/>
</svg>
<div class="abs g rot" style="left:247px;top:354px;width:0;"><span style="position:absolute;right:0;top:0">77%</span></div>
<div class="abs g ctr" style="left:262px;top:458px">0&deg;</div>
<div class="abs g ctr" style="left:312px;top:458px">30&deg;</div>
<div class="abs g ctr" style="left:362px;top:458px">60&deg;</div>
<div class="abs ttl" style="left:626px;letter-spacing:0px">Tree Cover</div>
<svg width="1084" height="507" viewBox="0 0 1084 507">
<rect x="626" y="354" width="10" height="100" fill="#00ee00"/>
<rect x="636" y="452.2" width="10" height="1.8" fill="#00ee00"/>
<path d="M626 354V454H726" fill="none" stroke="#000" stroke-opacity="0.59" stroke-width="2"/>
</svg>
<div class="abs g rot" style="left:611px;top:354px;width:0;"><span style="position:absolute;right:0;top:0">99%</span></div>
<div class="abs g ctr" style="left:626px;top:458px">0%</div>
<div class="abs g ctr" style="left:676px;top:458px">50%</div>
<div class="abs g ctr" style="left:726px;top:458px">100%</div>
<div class="abs st" style="left:140px">Min<br>Avg<br>Max<br>Delta</div><div class="abs st" style="left:174px">3724'<br>4314'<br>4797'<br>1073'</div>
<div class="abs st" style="left:380px">Min<br>Avg<br>Max</div><div class="abs st" style="left:409px">0&deg;<br>4&deg;<br>23&deg;</div>
<div class="abs ttl" style="left:486px">Aspect</div>
<svg width="1084" height="507" viewBox="0 0 1084 507">
<path d="M505.96 367.69 A39.3 39.3 0 0 1 536.04 367.69 L538.22 362.43 A45 45 0 0 1 562.57 386.78 L560.73 387.54 A43 43 0 0 1 560.73 420.46 L549.18 415.67 A30.5 30.5 0 0 1 532.67 432.18 L531.33 428.94 A27 27 0 0 1 510.67 428.94 L510.86 428.48 A26.5 26.5 0 0 1 496.52 414.14 L490.70 416.55 A32.8 32.8 0 0 1 490.70 391.45 L491.44 391.75 A32 32 0 0 1 508.75 374.44 Z" fill="#8080ff"/>
<path d="M521 404L536.04 367.69M521 404L560.73 387.54M521 404L549.18 415.67M521 404L531.33 428.94M521 404L510.86 428.48M521 404L496.52 414.14M521 404L491.44 391.75M521 404L508.75 374.44" stroke="#fff" stroke-opacity="0.10" stroke-width="1" fill="none"/>
<rect x="520.1" y="354" width="1.8" height="100" fill="#000" fill-opacity="0.66"/>
<rect x="471" y="403.1" width="100" height="1.8" fill="#000" fill-opacity="0.66"/>
<rect x="518" y="357.7" width="6" height="1.8" fill="#000" fill-opacity="0.66"/>
</svg>
<div class="abs g" style="left:507.5px;top:353px">N</div><div class="abs g" style="left:525px;top:353px">21%</div><div class="abs g" style="left:473px;top:389px">W</div><div class="abs g" style="left:562px;top:389px">E</div><div class="abs g" style="left:509px;top:443px">S</div>
<div class="abs ttl" style="left:796px;letter-spacing:0.08px">Land Cover</div><div class="abs" style="left:784px;top:357px;width:13px;height:13px;background:#cbb87c"></div><div class="abs" style="left:802px;top:358px;line-height:15px;letter-spacing:-0.07px">Shrub 100%</div>
<svg width="1084" height="507" viewBox="0 0 1084 507"><defs><linearGradient id="bg" x1="0" y1="0" x2="0" y2="1"><stop offset="0" stop-color="#fafafa"/><stop offset="1" stop-color="#dbdbdb"/></linearGradient></defs><rect x="1045.2" y="479.1" width="34.4" height="21.6" rx="2.6" fill="url(#bg)" stroke="#6a9bec" stroke-width="1.6"/><rect x="1046.5" y="480.4" width="31.8" height="19" rx="1.5" fill="none" stroke="#bdbdbd" stroke-opacity="0.6" stroke-width="1"/></svg><div class="abs" style="left:1044.5px;top:478px;width:36px;height:23px;font-weight:bold;font-size:13px;line-height:23px;text-align:center;">OK</div>
</div></body></html>
